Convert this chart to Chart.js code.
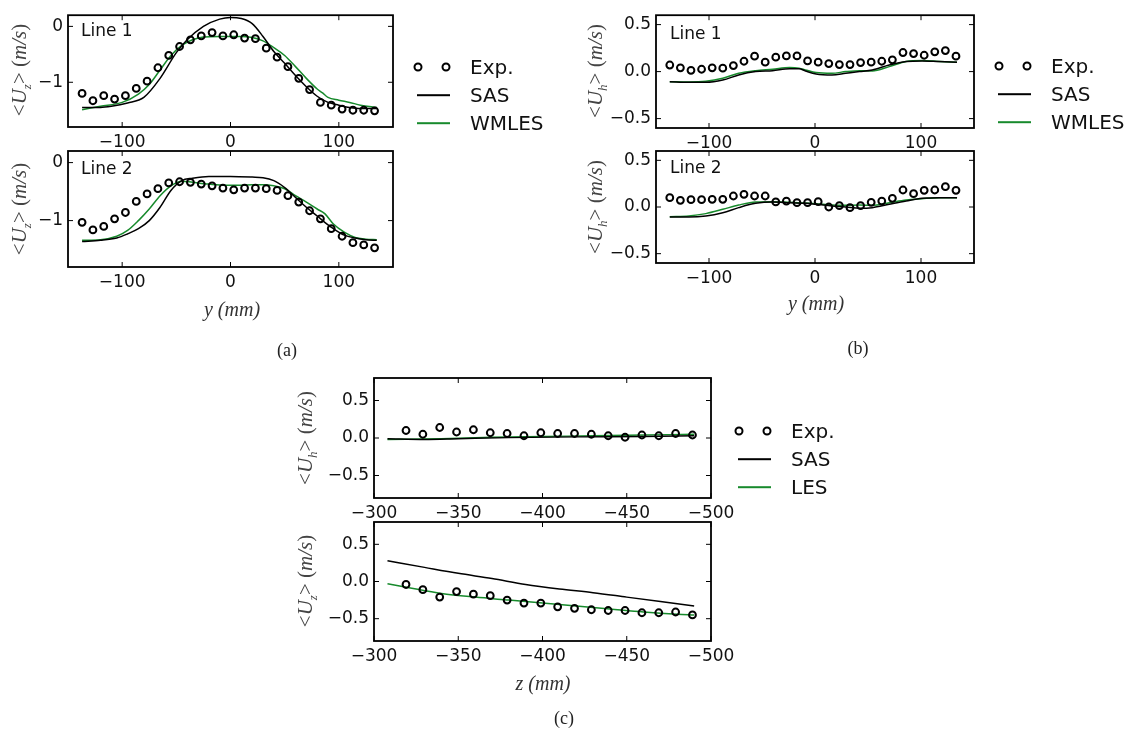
<!DOCTYPE html>
<html>
<head>
<meta charset="utf-8">
<script src="https://cdn.jsdelivr.net/npm/chart.js@4.4.1/dist/chart.umd.min.js"></script>
<style>
  html, body { margin: 0; padding: 0; background: #fff; }
  #fig { position: relative; width: 1129px; height: 740px; overflow: hidden; }
  #fig canvas { position: absolute; left: 0; top: 0; }
  .t { position: absolute; white-space: nowrap; color: #111; }
  .sans { font-family: "DejaVu Sans", sans-serif; }
  .ylab { font-family: "Liberation Serif", serif; font-size: 21px; color: #444;
          transform: translate(-50%, -50%) rotate(-90deg); }
  .ylab sub { font-size: 13px; }
  .xlab { font-family: "Liberation Serif", serif; font-size: 20px; font-style: italic; color: #333;
          transform: translate(-50%, -50%); }
  .cap { font-family: "Liberation Serif", serif; font-size: 18px; color: #222; transform: translate(-50%, -50%); }
  .lg { font-family: "DejaVu Sans", sans-serif; font-size: 20px; transform: translateY(-50%); }
  .dot { position: absolute; width: 5px; height: 5px; border: 2.2px solid #000; border-radius: 50%;
         transform: translate(-50%, -50%); }
  .ln { position: absolute; height: 1.6px; transform: translateY(-50%); }
</style>
</head>
<body>
<div id="fig">
  <canvas id="a1" width="1129" height="740"></canvas>
  <canvas id="a2" width="1129" height="740"></canvas>
  <canvas id="b1" width="1129" height="740"></canvas>
  <canvas id="b2" width="1129" height="740"></canvas>
  <canvas id="c1" width="1129" height="740"></canvas>
  <canvas id="c2" width="1129" height="740"></canvas>
</div>
<script>
// ---- data ----
const yTicksA = [0, -1];
const yTicksBC = [0.5, 0, -0.5];
const xTicksAB = [-100, 0, 100];
const xTicksC = [-300, -350, -400, -450, -500];

// experimental stations along y (mm), panels (a) and (b)
const expY = [-137, -127, -117, -107, -97, -87, -77, -67, -57, -47, -37, -27, -17, -7,
              3, 13, 23, 33, 43, 53, 63, 73, 83, 93, 103, 113, 123, 133];

// (a) Line 1, <Uz>
const a1Exp = [-1.20, -1.33, -1.24, -1.30, -1.24, -1.11, -0.98, -0.74, -0.52, -0.36, -0.24, -0.17, -0.11, -0.17,
               -0.15, -0.21, -0.22, -0.39, -0.55, -0.72, -0.93, -1.13, -1.36, -1.41, -1.48, -1.50, -1.50, -1.51];
const a1SasX = [-137, -120, -110, -95, -80, -65, -50, -40, -25, -10, 0, 10, 20, 30, 40, 50, 60, 70, 80, 90, 100, 110, 120, 135];
const a1SasY = [-1.45, -1.45, -1.43, -1.37, -1.27, -0.93, -0.47, -0.24, 0.0, 0.13, 0.16, 0.14, 0.05, -0.18,
                -0.45, -0.66, -0.88, -1.08, -1.25, -1.36, -1.41, -1.45, -1.47, -1.47];
const a1WmX = [-137, -120, -100, -85, -75, -65, -55, -45, -35, -25, -10, 0, 10, 20, 30, 40, 50, 60, 70, 80, 85, 90, 100, 110, 120, 135];
const a1WmY = [-1.49, -1.43, -1.36, -1.21, -1.04, -0.78, -0.52, -0.34, -0.24, -0.19, -0.18, -0.18, -0.18, -0.20,
               -0.26, -0.38, -0.52, -0.72, -0.93, -1.12, -1.19, -1.27, -1.32, -1.36, -1.41, -1.45];

// (a) Line 2, <Uz>
const a2Exp = [-1.03, -1.16, -1.10, -0.97, -0.86, -0.67, -0.54, -0.45, -0.35, -0.33, -0.34, -0.37, -0.40, -0.44,
               -0.47, -0.44, -0.44, -0.45, -0.48, -0.57, -0.68, -0.83, -0.97, -1.14, -1.27, -1.38, -1.42, -1.47];
const a2SasX = [-137, -120, -105, -95, -85, -75, -65, -55, -45, -35, -20, 0, 20, 30, 40, 50, 60, 70, 80, 87, 95, 105, 115, 125, 135];
const a2SasY = [-1.36, -1.34, -1.30, -1.23, -1.14, -1.00, -0.77, -0.48, -0.31, -0.27, -0.24, -0.24, -0.25, -0.26,
                -0.31, -0.43, -0.60, -0.77, -0.92, -1.03, -1.14, -1.25, -1.30, -1.33, -1.34];
const a2WmX = [-137, -120, -105, -95, -85, -75, -65, -55, -45, -35, -20, -5, 10, 20, 30, 40, 50, 60, 70, 80, 87, 95, 105, 115, 125, 135];
const a2WmY = [-1.34, -1.33, -1.27, -1.17, -1.00, -0.80, -0.57, -0.40, -0.32, -0.34, -0.37, -0.39, -0.39, -0.38,
               -0.38, -0.40, -0.45, -0.57, -0.68, -0.80, -0.88, -1.06, -1.20, -1.29, -1.32, -1.33];

// (b) Line 1, <Uh>
const b1Exp = [0.07, 0.04, 0.014, 0.025, 0.04, 0.036, 0.064, 0.11, 0.164, 0.10, 0.153, 0.167, 0.167, 0.114,
               0.10, 0.085, 0.075, 0.075, 0.096, 0.10, 0.11, 0.125, 0.203, 0.192, 0.174, 0.21, 0.224, 0.164];
const b1SasX = [-137, -119, -103, -87, -72, -56, -40, -24, -15, -9, 1, 16, 29, 42, 54, 70, 86, 101, 117, 134];
const b1SasY = [-0.107, -0.114, -0.114, -0.09, -0.036, 0.0, 0.01, 0.03, 0.03, 0.007, -0.025, -0.036, -0.018,
                0.0, 0.018, 0.07, 0.107, 0.114, 0.107, 0.10];
const b1WmY = [-0.107, -0.11, -0.103, -0.071, -0.018, 0.01, 0.025, 0.043, 0.036, 0.018, -0.01, -0.018, 0.0,
               0.01, 0.007, 0.053, 0.107, 0.117, 0.107, 0.10];

// (b) Line 2, <Uh>
const b2Exp = [0.10, 0.071, 0.079, 0.079, 0.082, 0.082, 0.118, 0.136, 0.118, 0.118, 0.054, 0.064, 0.046, 0.046,
               0.057, 0.0, 0.014, -0.007, 0.014, 0.05, 0.064, 0.093, 0.182, 0.143, 0.179, 0.182, 0.218, 0.179];
const b2SasX = [-137, -119, -103, -87, -72, -56, -40, -24, -9, 1, 16, 29, 42, 54, 70, 86, 101, 117, 134];
const b2SasY = [-0.107, -0.107, -0.096, -0.061, -0.007, 0.039, 0.054, 0.046, 0.039, 0.029, 0.011, 0.0, -0.014,
                -0.007, 0.029, 0.064, 0.093, 0.10, 0.10];
const b2WmY = [-0.104, -0.096, -0.071, -0.025, 0.021, 0.054, 0.057, 0.05, 0.043, 0.036, 0.021, 0.018, 0.021,
               0.018, 0.046, 0.075, 0.089, 0.10, 0.10];

// (c) stations along z (mm)
const expZ = [-319, -329, -339, -349, -359, -369, -379, -389, -399, -409, -419, -429, -439, -449, -459, -469, -479, -489];
const c1Exp = [0.10, 0.05, 0.14, 0.08, 0.11, 0.07, 0.06, 0.03, 0.07, 0.06, 0.06, 0.05, 0.03, 0.01, 0.04, 0.03, 0.06, 0.04];
const c1SasX = [-308, -330, -350, -380, -420, -460, -490];
const c1SasY = [-0.01, -0.02, -0.01, 0.005, 0.015, 0.02, 0.03];
const c1LesX = [-308, -340, -370, -400, -430, -460, -490];
const c1LesY = [-0.02, -0.01, 0.01, 0.02, 0.03, 0.04, 0.05];

const c2Exp = [-0.04, -0.11, -0.21, -0.135, -0.17, -0.19, -0.25, -0.29, -0.29, -0.34, -0.36, -0.38, -0.39, -0.39, -0.42, -0.42, -0.41, -0.45];
const c2SasX = [-308, -330, -350, -370, -390, -410, -430, -450, -470, -490];
const c2SasY = [0.28, 0.19, 0.11, 0.04, -0.04, -0.10, -0.15, -0.21, -0.27, -0.33];
const c2LesX = [-308, -320, -340, -360, -380, -400, -420, -440, -460, -480, -490];
const c2LesY = [-0.03, -0.08, -0.16, -0.21, -0.25, -0.29, -0.33, -0.37, -0.41, -0.44, -0.45];

// ---- drawing ----
const W = 1129, H = 740;
const GREEN = '#178a2c';
const YAXIS_W = 60, XAXIS_H = 30;

const pts = (xs, ys) => xs.map((x, i) => ({ x, y: ys[i] }));

// matplotlib-style frame with inward ticks on all four sides
const frame = {
  id: 'frame',
  afterDraw(chart) {
    const { ctx, chartArea: a, scales: { x, y } } = chart;
    ctx.save();
    ctx.strokeStyle = '#000';
    ctx.lineWidth = 1;
    ctx.beginPath();
    x.ticks.forEach(t => {
      const px = x.getPixelForValue(t.value);
      ctx.moveTo(px, a.bottom); ctx.lineTo(px, a.bottom - 5);
      ctx.moveTo(px, a.top); ctx.lineTo(px, a.top + 5);
    });
    y.ticks.forEach(t => {
      const py = y.getPixelForValue(t.value);
      ctx.moveTo(a.left, py); ctx.lineTo(a.left + 5, py);
      ctx.moveTo(a.right, py); ctx.lineTo(a.right - 5, py);
    });
    ctx.stroke();
    ctx.lineWidth = 1.8;
    ctx.strokeRect(a.left, a.top, a.right - a.left, a.bottom - a.top);
    ctx.restore();
  }
};

function expSet(xs, ys) {
  return {
    data: pts(xs, ys), showLine: false,
    pointRadius: 3.4, pointBorderWidth: 2, pointBorderColor: '#000',
    pointBackgroundColor: 'rgba(0,0,0,0)'
  };
}
function lineSet(xs, ys, color) {
  return {
    data: pts(xs, ys), showLine: true, pointRadius: 0, borderColor: color,
    borderWidth: 1.5, cubicInterpolationMode: 'monotone', fill: false
  };
}

function panel(id, box, xMin, xMax, xTicks, yMin, yMax, yTicks, datasets, reverse) {
  const [L, T, R, B] = box;
  new Chart(document.getElementById(id), {
    type: 'scatter',
    data: { datasets },
    options: {
      responsive: false,
      animation: false,
      layout: { padding: { left: L - YAXIS_W, top: T, right: W - R, bottom: H - B - XAXIS_H } },
      plugins: { legend: { display: false }, tooltip: { enabled: false } },
      scales: {
        x: {
          type: 'linear', min: xMin, max: xMax, reverse: !!reverse,
          grid: { display: false, drawTicks: false }, border: { display: false },
          afterBuildTicks: s => { s.ticks = xTicks.map(v => ({ value: v })); },
          afterFit: s => { s.height = XAXIS_H; },
          ticks: {
            padding: 5, color: '#111', maxRotation: 0, autoSkip: false,
            font: { family: 'DejaVu Sans', size: 17 },
            callback: v => String(v).replace('-', '\u2212')
          }
        },
        y: {
          type: 'linear', min: yMin, max: yMax,
          grid: { display: false, drawTicks: false }, border: { display: false },
          afterBuildTicks: s => { s.ticks = yTicks.map(v => ({ value: v })); },
          afterFit: s => { s.width = YAXIS_W; },
          ticks: {
            padding: 5, color: '#111',
            font: { family: 'DejaVu Sans', size: 17 },
            callback: v => {
              const s = yTicks.some(t => !Number.isInteger(t)) ? v.toFixed(1) : String(v);
              return s.replace('-', '\u2212');
            }
          }
        }
      }
    },
    plugins: [frame]
  });
}

panel('a1', [68, 12, 393, 127], -150, 150, xTicksAB, -1.8, 0.2, yTicksA, [
  expSet(expY, a1Exp), lineSet(a1SasX, a1SasY, '#000'), lineSet(a1WmX, a1WmY, GREEN)]);
panel('a2', [68, 151, 393, 267], -150, 150, xTicksAB, -1.8, 0.2, yTicksA, [
  expSet(expY, a2Exp), lineSet(a2SasX, a2SasY, '#000'), lineSet(a2WmX, a2WmY, GREEN)]);
panel('b1', [656, 15, 974, 128], -150, 150, xTicksAB, -0.6, 0.6, yTicksBC, [
  expSet(expY, b1Exp), lineSet(b1SasX, b1SasY, '#000'), lineSet(b1SasX, b1WmY, GREEN)]);
panel('b2', [656, 151, 974, 263], -150, 150, xTicksAB, -0.6, 0.6, yTicksBC, [
  expSet(expY, b2Exp), lineSet(b2SasX, b2SasY, '#000'), lineSet(b2SasX, b2WmY, GREEN)]);
panel('c1', [374, 378, 711, 498], -500, -300, xTicksC, -0.8, 0.8, yTicksBC, [
  expSet(expZ, c1Exp), lineSet(c1SasX, c1SasY, '#000'), lineSet(c1LesX, c1LesY, GREEN)], true);
panel('c2', [374, 522, 711, 641], -500, -300, xTicksC, -0.8, 0.8, yTicksBC, [
  expSet(expZ, c2Exp), lineSet(c2SasX, c2SasY, '#000'), lineSet(c2LesX, c2LesY, GREEN)], true);

// ---- text: titles, panel labels, legends, captions ----
const fig = document.getElementById('fig');
function txt(html, cls, x, y) {
  const d = document.createElement('div');
  d.className = 't ' + cls;
  d.style.left = x + 'px';
  d.style.top = y + 'px';
  d.innerHTML = html;
  fig.appendChild(d);
}
const uz = '&lt;<i>U</i><sub><i>z</i></sub>&gt; (<i>m/s</i>)';
const uh = '&lt;<i>U</i><sub><i>h</i></sub>&gt; (<i>m/s</i>)';
txt(uz, 'ylab', 21, 70);
txt(uz, 'ylab', 21, 209);
txt(uh, 'ylab', 597, 71);
txt(uh, 'ylab', 597, 207);
txt(uh, 'ylab', 307, 438);
txt(uz, 'ylab', 307, 581);
txt('y (mm)', 'xlab', 232, 309);
txt('y (mm)', 'xlab', 816, 303);
txt('z (mm)', 'xlab', 543, 683);

txt('Line 1', 'sans', 81, 20);
txt('Line 2', 'sans', 81, 158);
txt('Line 1', 'sans', 670, 23);
txt('Line 2', 'sans', 670, 157);
document.querySelectorAll('.t.sans').forEach(d => { d.style.fontSize = '17px'; });

txt('(a)', 'cap', 287, 350);
txt('(b)', 'cap', 858, 348);
txt('(c)', 'cap', 564, 718);

function legend(x, y0, labels) {
  const rows = [y0, y0 + 28, y0 + 56];
  [x, x + 28].forEach(cx => {
    const d = document.createElement('div');
    d.className = 'dot';
    d.style.left = cx + 'px'; d.style.top = rows[0] + 'px';
    fig.appendChild(d);
  });
  ['#000', GREEN].forEach((c, i) => {
    const d = document.createElement('div');
    d.className = 'ln';
    d.style.left = (x - 1) + 'px'; d.style.top = rows[i + 1] + 'px';
    d.style.width = '33px'; d.style.background = c;
    fig.appendChild(d);
  });
  labels.forEach((s, i) => txt(s, 'lg', x + 52, rows[i]));
}
legend(418, 67, ['Exp.', 'SAS', 'WMLES']);
legend(999, 66, ['Exp.', 'SAS', 'WMLES']);
legend(739, 431, ['Exp.', 'SAS', 'LES']);
</script>
</body>
</html>
